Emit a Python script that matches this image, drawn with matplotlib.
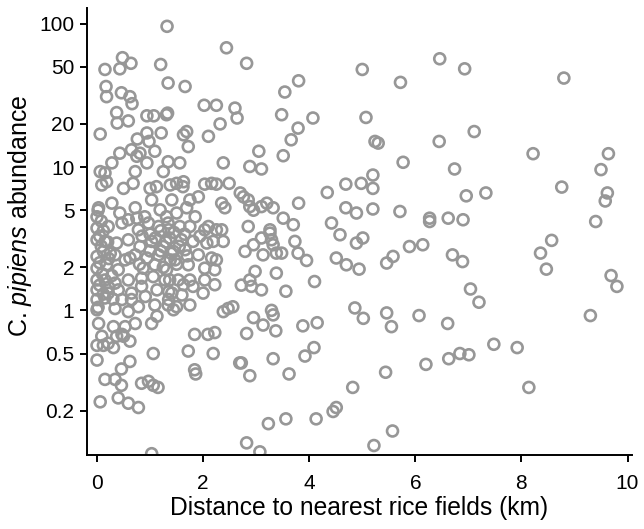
import matplotlib
matplotlib.use('Agg')
from matplotlib import pyplot as plt
import numpy as np

plt.rcParams['font.family'] = ['Liberation Sans', 'DejaVu Sans']
plt.rcParams['mathtext.fontset'] = 'custom'
plt.rcParams['mathtext.it'] = 'Liberation Sans:italic'
plt.rcParams['mathtext.rm'] = 'Liberation Sans'

# distance to nearest rice field (km) and C. pipiens abundance
dist_km = [
    # upper left
    1.32, 2.44, 2.82, 0.15, 0.43, 0.48, 0.64, 1.20, 0.17, 0.18, 0.46, 0.62, 0.66, 1.34, 1.66,
    0.37, 0.38, 0.59, 0.94, 1.07, 1.31, 1.33, 2.02, 2.25, 2.60, 2.64, 2.32, 0.06, 1.21, 1.63,
    1.69, 2.10, 1.72, 0.94, 0.76, 0.98, 0.65, 0.43, 0.81, 1.09, 0.75, 1.34, 1.56, 2.38, 2.88,
    0.28, 0.06, 0.15, 0.09, 0.18, 0.72, 0.94, 1.25, 0.50, 0.68, 1.00, 1.12, 1.50, 1.63, 1.62,
    2.03, 2.16, 2.25, 2.49, 2.70, 1.91, 1.38,
    # middle, upper
    5.00, 5.72, 6.46, 3.80, 3.54, 3.48, 4.07, 5.07, 3.79, 3.66, 5.24, 5.30, 6.45, 3.05, 3.51,
    5.77, 3.10, 5.20, 4.98, 5.20, 4.69, 4.34, 3.80, 4.69, 4.89, 5.20, 5.71, 6.27, 6.27, 2.76,
    2.85, 2.88, 2.95, 3.10, 3.20, 3.32, 3.51, 3.70, 2.85, 3.26, 4.42,
    # middle, lower
    4.58, 4.89, 5.01, 5.46, 5.58, 5.89, 6.14, 2.79, 2.95, 3.10, 3.26, 3.29, 3.32, 3.38, 3.48,
    3.13, 3.73, 3.79, 3.95, 4.51, 4.70, 4.94, 2.98, 2.88, 2.91, 3.10, 2.72, 3.38, 3.56, 4.10,
    4.86, 5.02, 5.46, 5.55, 6.07, 3.29, 3.32, 2.95, 3.13, 3.37, 2.82, 3.88, 4.15, 2.72, 3.32,
    3.92, 4.09, 2.88, 3.62, 5.44, 6.20, 4.82, 4.45, 4.51, 4.13, 3.56, 3.23, 2.82, 3.07, 5.57,
    5.22,
    # right
    6.93, 8.80, 7.11, 8.22, 9.64, 6.74, 9.50, 8.76, 7.33, 6.96, 9.62, 9.58, 6.62, 6.90, 9.40,
    8.57, 8.36, 8.47, 6.70, 6.89, 9.69, 9.80, 7.04, 7.20, 9.30, 6.61, 6.63, 6.84, 7.01, 7.48,
    7.92, 8.14,
    # lower left
    0.00, 0.12, 0.21, 0.31, 0.37, 0.50, 0.62, 1.06, 1.72, 2.19, 1.84, 2.09, 2.22, 2.69, 1.84,
    1.86, 0.62, 0.46, 0.34, 0.46, 0.15, 0.40, 0.59, 0.78, 0.06, 0.84, 0.97, 1.06, 1.15, 1.03,
    0.00,
    # dense cluster, 0-1.4 km
    0.28, 0.03, 0.00, 0.43, 0.72, 0.59, 1.03, 1.19, 1.31, 0.00, 0.21, 0.47, 0.78, 0.97, 1.16,
    1.35, 0.00, 0.15, 0.37, 0.59, 0.81, 1.03, 1.25, 0.00, 0.12, 0.34, 0.53, 0.72, 0.94, 1.16,
    1.38, 0.00, 0.18, 0.40, 0.62, 0.87, 1.09, 1.31, 0.00, 0.15, 0.34, 0.59, 0.84, 1.06, 1.28,
    0.00, 0.21, 0.40, 0.65, 0.84, 1.13, 1.35, 0.00, 0.15, 0.47, 0.65, 0.91, 1.09, 1.35, 0.00,
    0.34, 0.59, 0.78, 1.13, 0.03, 0.31, 0.53, 0.72, 1.03, 0.09, 0.47,
    0.02, 0.08, 0.12, 0.05, 0.20, 0.08, 0.25, 0.05, 0.22, 0.10, 0.28, 0.05, 0.22, 0.12, 0.30,
    0.02,
    # dense cluster, 0.7-2.5 km
    1.41, 1.75, 2.35, 2.41, 1.50, 1.69, 1.85, 1.34, 1.56, 1.75, 2.03, 2.10, 2.25, 2.35, 1.37,
    1.59, 1.81, 1.94, 2.07, 2.19, 2.38, 1.44, 1.66, 1.91, 2.16, 2.25, 1.47, 1.72, 2.03, 2.22,
    1.37, 1.53, 1.63, 1.75, 1.81, 2.03, 2.22, 1.41, 1.60, 2.00, 1.34, 1.50, 1.75, 1.44, 2.38,
    2.47, 2.56,
    0.75, 0.90, 0.85, 1.00, 1.10, 1.20, 1.30, 1.45, 1.55, 1.65, 1.00, 1.20, 1.40, 1.50, 1.70,
    0.80, 1.25,
]
abundance = [
    # upper left
    96, 68, 53, 48, 48.5, 58, 53, 52, 36.5, 31, 33, 31, 27.7, 38.6, 36.5,
    24, 20.3, 21, 22.8, 22.8, 23.2, 23.8, 27, 27, 25.8, 22, 20, 17, 17.3, 16.8,
    17.7, 16.4, 13.9, 17.3, 15.7, 15.1, 13.2, 12.5, 12.5, 12.9, 11.9, 10.9, 10.7, 10.7, 10.1,
    10.7, 9.3, 9.1, 7.5, 7.9, 9.3, 10.7, 9.3, 7.1, 7.7, 7.1, 7.3, 7.7, 7.9, 7.3,
    7.6, 7.7, 7.6, 7.7, 6.6, 6.2, 7.5,
    # middle, upper
    48, 39, 57, 40, 33.4, 23.2, 22, 22.2, 18.7, 15.5, 15.1, 14.7, 15.1, 12.9, 12,
    10.8, 9.7, 8.8, 7.7, 7.1, 7.6, 6.65, 5.6, 5.2, 4.78, 5.1, 4.9, 4.4, 4.17, 6.2,
    5.9, 5.3, 5.0, 5.3, 5.6, 5.2, 4.4, 3.96, 3.85, 3.65, 4.07,
    # middle, lower
    3.37, 2.95, 3.2, 2.14, 2.38, 2.79, 2.87, 2.58, 2.87, 3.2, 3.46, 3.11, 2.87, 2.51, 2.51,
    2.44, 3.03, 2.51, 2.23, 2.32, 2.08, 1.94, 1.87, 1.63, 1.47, 1.39, 1.5, 1.82, 1.36, 1.59,
    1.04, 0.88, 0.96, 0.77, 0.92, 1.0, 0.93, 0.89, 0.79, 0.72, 0.69, 0.78, 0.82, 0.43, 0.46,
    0.48, 0.55, 0.35, 0.36, 0.37, 0.42, 0.29, 0.197, 0.21, 0.175, 0.175, 0.162, 0.119, 0.103, 0.144,
    0.114,
    # right
    48.5, 41.8, 17.7, 12.4, 12.4, 9.7, 9.6, 7.25, 6.6, 6.3, 6.6, 5.8, 4.4, 4.29, 4.17,
    3.08, 2.51, 1.94, 2.44, 2.19, 1.75, 1.47, 1.41, 1.14, 0.92, 0.81, 0.46, 0.50, 0.49, 0.58,
    0.55, 0.29,
    # lower left
    0.57, 0.57, 0.59, 0.55, 0.66, 0.66, 0.61, 0.50, 0.52, 0.50, 0.68, 0.68, 0.70, 0.43, 0.385,
    0.36, 0.44, 0.39, 0.33, 0.30, 0.33, 0.245, 0.225, 0.21, 0.23, 0.31, 0.32, 0.30, 0.29, 0.10,
    0.45,
    # dense cluster, 0-1.4 km
    5.6, 5.2, 4.5, 4.78, 5.2, 4.29, 5.9, 5.03, 4.5, 3.75, 3.85, 4.07, 3.65, 4.07, 3.85,
    3.65, 3.11, 3.03, 2.95, 3.11, 2.79, 3.03, 2.79, 2.38, 2.58, 2.44, 2.25, 2.44, 2.32, 2.44,
    2.25, 1.97, 2.08, 1.92, 2.32, 1.97, 2.08, 1.92, 1.63, 1.63, 1.55, 1.63, 1.68, 1.72, 1.63,
    1.39, 1.32, 1.39, 1.32, 1.47, 1.39, 1.35, 1.19, 1.22, 1.19, 1.19, 1.25, 1.09, 1.19, 1.01,
    1.03, 0.98, 1.06, 0.91, 0.81, 0.77, 0.77, 0.81, 0.81, 0.66, 0.68,
    5.0, 4.2, 3.6, 3.3, 3.0, 2.8, 2.5, 2.15, 2.3, 1.8, 1.75, 1.5, 1.45, 1.3, 1.2,
    1.05,
    # dense cluster, 0.7-2.5 km
    5.9, 5.9, 5.6, 5.2, 4.78, 5.2, 4.5, 4.07, 3.85, 3.85, 3.65, 3.85, 3.65, 3.65, 3.2,
    3.11, 3.03, 3.3, 2.95, 3.03, 3.03, 2.58, 2.65, 2.44, 2.32, 2.25, 2.25, 2.08, 1.97, 1.92,
    1.63, 1.63, 1.51, 1.63, 1.47, 1.63, 1.51, 1.32, 1.28, 1.32, 1.09, 1.06, 1.09, 1.01, 0.98,
    1.03, 1.06,
    4.4, 4.5, 3.3, 3.4, 3.2, 3.6, 3.0, 3.5, 2.8, 3.4, 2.6, 2.6, 2.5, 2.1, 2.4,
    2.1, 2.0,
]
x_ticks = [0, 2, 4, 6, 8, 10]
y_ticks = [0.2, 0.5, 1, 2, 5, 10, 20, 50, 100]
y_tick_labels = ['0.2', '0.5', '1', '2', '5', '10', '20', '50', '100']

fig = plt.figure(figsize=(6.44, 5.29), dpi=100)
ax = fig.add_axes([0.135, 0.140, 0.846, 0.845])

ax.scatter(dist_km, abundance, s=62, facecolors='none', edgecolors='#979797', linewidths=1.9)

ax.set_yscale('log')
ax.set_xlim(-0.19, 10.08)
ax.set_ylim(0.098, 129)
ax.set_xticks(x_ticks)
ax.set_xticklabels([str(t) for t in x_ticks])
ax.set_yticks(y_ticks)
ax.set_yticklabels(y_tick_labels)
ax.yaxis.set_minor_locator(matplotlib.ticker.NullLocator())

for side in ['top', 'right']:
    ax.spines[side].set_visible(False)
for side in ['left', 'bottom']:
    ax.spines[side].set_linewidth(1.4)
ax.tick_params(axis='both', which='major', direction='out', length=5, width=1.4,
               labelsize=15, colors='black')
ax.tick_params(axis='x', pad=9)
ax.tick_params(axis='y', pad=4)

ax.set_xlabel('Distance to nearest rice fields (km)', fontsize=17.7, labelpad=2)
ax.set_ylabel(r'C. $\mathit{pipiens}$ abundance', fontsize=18)
ax.yaxis.set_label_coords(-0.097, 0.535)

fig.savefig('out.png', dpi=100)
